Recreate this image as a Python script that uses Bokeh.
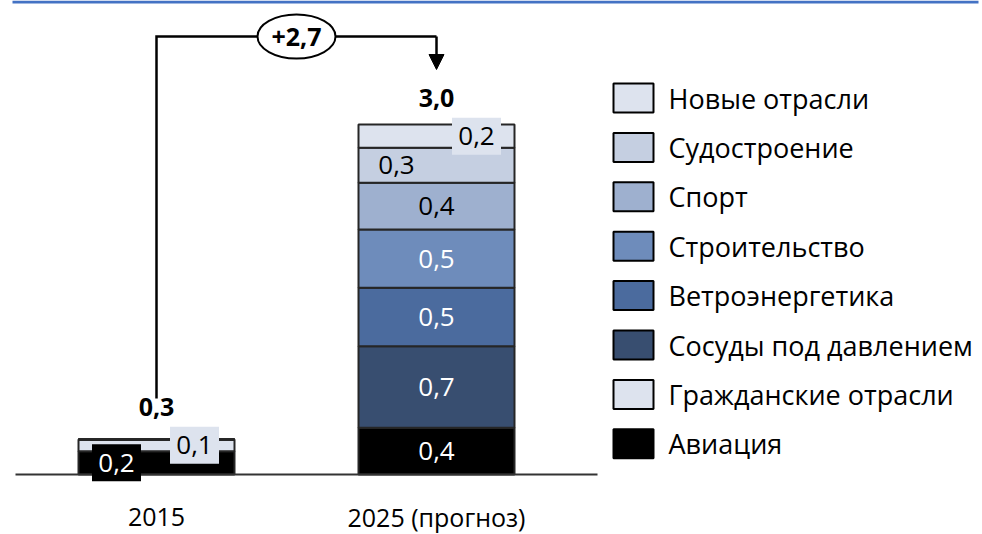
from bokeh.plotting import figure
from bokeh.models import ColumnDataSource, Range1d, Arrow, NormalHead
from bokeh.core.properties import value
from bokeh.embed import file_html
from bokeh.resources import INLINE

# ---------------- data ----------------
years = ["2015", "2025 (прогноз)"]
segments = ["Авиация", "Гражданские отрасли", "Сосуды под давлением",
            "Ветроэнергетика", "Строительство", "Спорт", "Судостроение",
            "Новые отрасли"]
aviation = [0.2, 0.4]
civil = [0.1, 0.0]
vessels = [0.0, 0.7]
wind = [0.0, 0.5]
construction = [0.0, 0.5]
sport = [0.0, 0.4]
shipbuilding = [0.0, 0.3]
new_ind = [0.0, 0.2]
totals = [0.3, 3.0]
growth = 2.7

series = [aviation, civil, vessels, wind, construction, sport, shipbuilding, new_ind]

# ---------------- styles ----------------
colors = ["#000000", "#dde3ee", "#384e70", "#4b6b9e", "#6e8cbb",
          "#9eb0cf", "#c5cfe1", "#dde3ee"]
text_colors = ["white", "black", "white", "white", "white", "black", "black", "black"]
FONT = "Open Sans"

W, H = 982, 534
PX = 280.0            # pixels per category step
PY = 350.0 / 3.0      # pixels per unit of value
X0, Y0 = 156.0, 474.0  # page position of first category / baseline


def X(px):
    return (px - X0) / PX


def Y(py):
    return (Y0 - py) / PY


p = figure(width=W, height=H, output_backend="svg", toolbar_location=None,
           x_range=Range1d(X(0), X(W)), y_range=Range1d(Y(H), Y(0)),
           x_axis_location=None, y_axis_location=None, min_border=0,
           outline_line_color=None, background_fill_color="white",
           border_fill_color="white")
p.grid.visible = False
p.styles = {"position": "absolute", "top": "0px", "left": "0px"}

# top blue rule
p.line([X(12), X(978)], [Y(1.5), Y(1.5)], line_width=3, color="#4472C4")

# stacked bars
keys = ["s%d" % i for i in range(len(series))]
data = {"x": list(range(len(years)))}
for k, s in zip(keys, series):
    data[k] = s
src = ColumnDataSource(data)
bar_w = 156.0 / PX
p.vbar_stack(keys, x="x", width=bar_w, fill_color=colors,
             line_color="#262626", line_width=2, source=src)

# baseline
p.line([X(15), X(597)], [0, 0], line_width=2, color="#333333")

# data labels
label_dx = {(0, 0): -40, (0, 1): 38, (1, 6): -40, (1, 7): 40}
boxed = {(0, 0), (0, 1), (1, 7)}
for i in range(len(years)):
    bottom = 0.0
    for j, s in enumerate(series):
        v = s[i]
        if v <= 0:
            continue
        yc = bottom + v / 2.0
        xc = i + label_dx.get((i, j), 0) / PX
        if (i, j) in boxed:
            p.rect(x=[xc], y=[yc], width=49, height=37, width_units="screen",
                   height_units="screen", fill_color=colors[j], line_color=None)
        p.text(x=[xc], y=[yc], text=[f"{v:.1f}".replace(".", ",")],
               text_font=value(FONT), text_font_size="26px",
               text_color=text_colors[j], text_align="center",
               text_baseline="middle")
        bottom += v

# totals
total_dy = [33, 27]
for i, t in enumerate(totals):
    p.text(x=[i], y=[t + total_dy[i] / PY], text=[f"{t:.1f}".replace(".", ",")],
           text_font=value(FONT), text_font_size="25px", text_font_style="bold",
           text_color="black", text_align="center", text_baseline="middle")

# connector with growth
y_start = totals[0] + 41 / PY
y_top = max(totals) + 88 / PY
y_tip = max(totals) + 55 / PY
p.line([0, 0, 1], [y_start, y_top, y_top], line_width=2.5, color="black",
       line_join="miter")
p.add_layout(Arrow(end=NormalHead(size=15, fill_color="black", line_color="black"),
                   x_start=1, y_start=y_top, x_end=1, y_end=y_tip,
                   line_width=2.5, line_color="black"))
p.ellipse(x=[0.5], y=[y_top], width=78, height=44, width_units="screen",
          height_units="screen", fill_color="white", line_color="black",
          line_width=2)
p.text(x=[0.5], y=[y_top], text=[f"+{growth:.1f}".replace(".", ",")],
       text_font=value(FONT), text_font_size="25px", text_font_style="bold",
       text_color="black", text_align="center", text_baseline="middle")

# category labels
p.text(x=list(range(len(years))), y=[Y(516.5)] * len(years), text=years,
       text_font=value(FONT), text_font_size="25px", text_color="black",
       text_align="center", text_baseline="middle")

# legend (top to bottom = reverse of stack)
for k, j in enumerate(reversed(range(len(segments)))):
    yc = 97.5 + 49.4 * k
    p.rect(x=[X(633)], y=[Y(yc)], width=40, height=29, width_units="screen",
           height_units="screen", fill_color=colors[j], line_color="black",
           line_width=2)
    p.text(x=[X(668)], y=[Y(yc)], text=[segments[j]], text_font=value(FONT),
           text_font_size="27px", text_color="black", text_align="left",
           text_baseline="middle")

open("out.html", "w").write(file_html(p, INLINE))
